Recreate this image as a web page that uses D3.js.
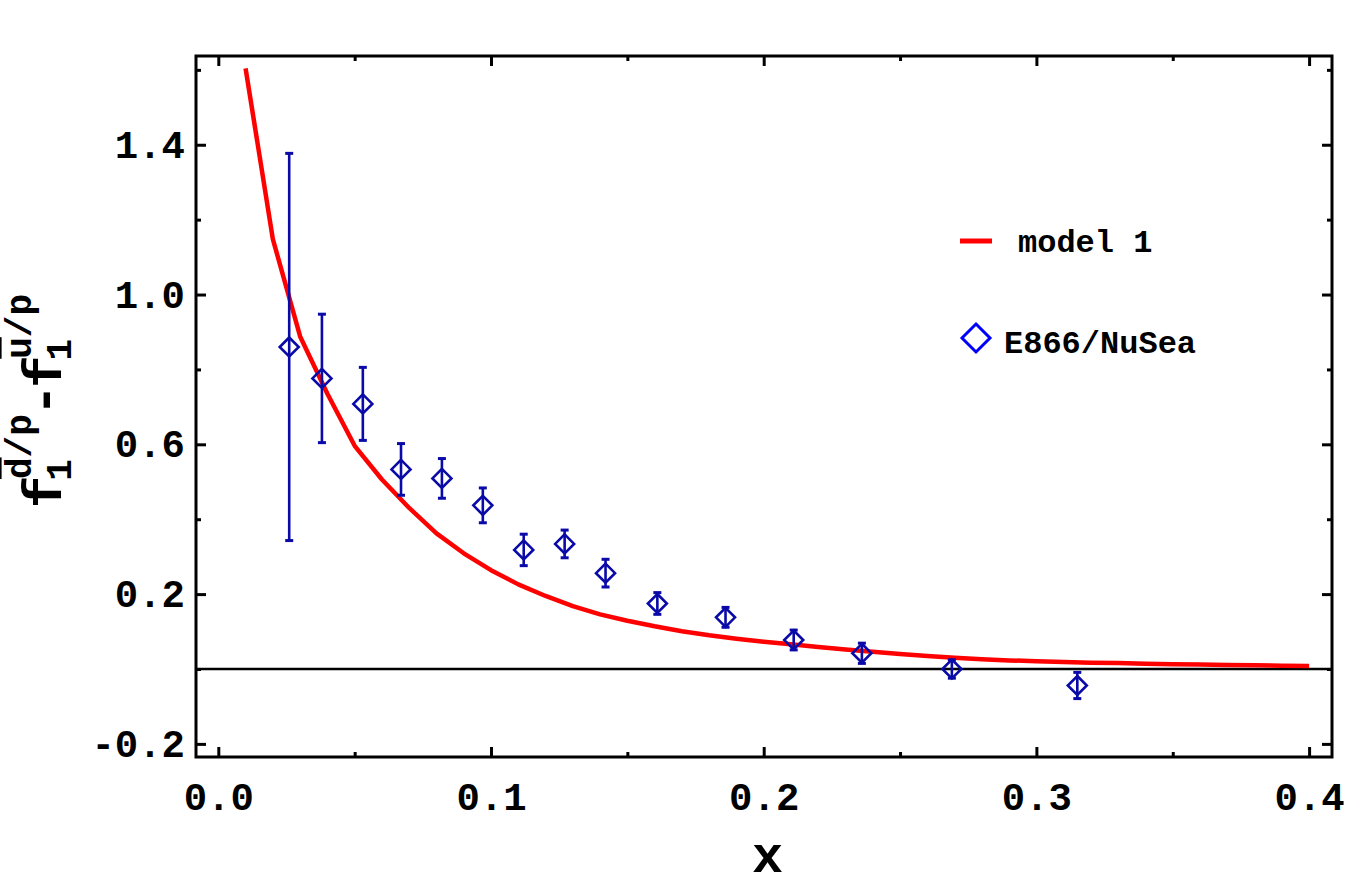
<!DOCTYPE html>
<html>
<head>
<meta charset="utf-8">
<script src="https://cdn.jsdelivr.net/npm/d3@7"></script>
<style>
  html, body { margin: 0; padding: 0; background: #fff; }
  svg { display: block; }
  text { font-family: "Liberation Mono", "DejaVu Sans Mono", monospace; font-weight: bold; }
</style>
</head>
<body>
<svg id="chart" width="1350" height="889"></svg>
<script>
// ---- data ----
const modelX = [0.01,0.02,0.03,0.04,0.05,0.06,0.07,0.08,0.09,0.10,
                0.11,0.12,0.13,0.14,0.15,0.16,0.17,0.18,0.19,0.20,
                0.21,0.22,0.23,0.24,0.25,0.26,0.27,0.28,0.29,0.30,
                0.31,0.32,0.33,0.34,0.35,0.36,0.37,0.38,0.39,0.40];
const modelY = [1.604,1.148,0.888,0.735,0.596,0.506,0.430,0.362,0.309,0.264,
                0.226,0.195,0.168,0.146,0.129,0.114,0.101,0.090,0.081,0.073,
                0.066,0.059,0.052,0.046,0.040,0.035,0.030,0.026,0.023,0.021,
                0.019,0.017,0.016,0.014,0.013,0.012,0.011,0.010,0.009,0.008];

const dataX   = [0.026,0.038,0.053,0.067,0.082,0.097,0.112,0.127,0.142,0.161,0.186,0.211,0.236,0.269,0.315];
const dataY   = [0.860,0.776,0.708,0.533,0.509,0.437,0.318,0.334,0.256,0.175,0.138,0.0775,0.042,0.000,-0.044];
const dataErr = [0.517,0.1715,0.0975,0.069,0.053,0.0465,0.042,0.037,0.037,0.029,0.0265,0.0265,0.027,0.0245,0.035];

const xMajorTicks = [0.0,0.1,0.2,0.3,0.4];
const xMinorTicks = [0.05,0.15,0.25,0.35];
const yMajorTicks = [-0.2,0.2,0.6,1.0,1.4];
const yMinorTicks = [0.0,0.4,0.8,1.2,1.6];

const legendLabels = ["model 1", "E866/NuSea"];

// ---- layout ----
const svg = d3.select("#chart");
const frame = {left: 196, right: 1332, top: 56, bottom: 757};
const x = d3.scaleLinear().domain([-0.00818, 0.4084]).range([frame.left, frame.right]);
const y = d3.scaleLinear().domain([-0.235, 1.637]).range([frame.bottom, frame.top]);

const dataColor = "#0a0aa8";
const fmt = d => d.toFixed(1);

// zero line
svg.append("line")
  .attr("x1", frame.left).attr("x2", frame.right)
  .attr("y1", y(0)).attr("y2", y(0))
  .attr("stroke", "#000").attr("stroke-width", 2.6);

// model curve
const line = d3.line().x((d,i) => x(modelX[i])).y((d,i) => y(modelY[i]));
svg.append("path")
  .attr("d", line(modelX))
  .attr("fill", "none").attr("stroke", "#ff0000").attr("stroke-width", 4.5)
  .attr("stroke-linejoin", "round");

// error bars
const eb = svg.append("g").attr("stroke", dataColor);
dataX.forEach((xv, i) => {
  const yt = y(dataY[i] + dataErr[i]), yb = y(dataY[i] - dataErr[i]), xp = x(xv);
  eb.append("line").attr("x1", xp).attr("x2", xp).attr("y1", yt).attr("y2", yb).attr("stroke-width", 2.6);
  eb.append("line").attr("x1", xp-4).attr("x2", xp+4).attr("y1", yt).attr("y2", yt).attr("stroke-width", 3);
  eb.append("line").attr("x1", xp-4).attr("x2", xp+4).attr("y1", yb).attr("y2", yb).attr("stroke-width", 3);
});

// diamonds
const diamond = (cx, cy, r) => `M${cx},${cy-r}L${cx+r},${cy}L${cx},${cy+r}L${cx-r},${cy}Z`;
svg.append("g").selectAll("path").data(dataX).join("path")
  .attr("d", (d,i) => diamond(x(d), y(dataY[i]), 9.5))
  .attr("fill", "none").attr("stroke", dataColor).attr("stroke-width", 2.6);

// ---- axes (inward ticks, mirrored) ----
function styleAxis(g) {
  g.select(".domain").remove();
  g.selectAll(".tick line").attr("stroke", "#000").attr("stroke-width", 3);
  g.selectAll(".tick text").attr("fill", "#000").style("font-size", "39px")
    .style("font-family", "'Liberation Mono', monospace").style("font-weight", "bold");
}
// bottom
svg.append("g").attr("transform", `translate(0,${frame.bottom})`)
  .call(d3.axisBottom(x).tickValues(xMajorTicks).tickSizeInner(-10).tickSizeOuter(0).tickPadding(25).tickFormat(fmt))
  .call(styleAxis);
svg.append("g").attr("transform", `translate(0,${frame.bottom})`)
  .call(d3.axisBottom(x).tickValues(xMinorTicks).tickSizeInner(-5).tickSizeOuter(0).tickFormat(""))
  .call(styleAxis);
// top
svg.append("g").attr("transform", `translate(0,${frame.top})`)
  .call(d3.axisTop(x).tickValues(xMajorTicks).tickSizeInner(-10).tickSizeOuter(0).tickFormat(""))
  .call(styleAxis);
svg.append("g").attr("transform", `translate(0,${frame.top})`)
  .call(d3.axisTop(x).tickValues(xMinorTicks).tickSizeInner(-5).tickSizeOuter(0).tickFormat(""))
  .call(styleAxis);
// left
svg.append("g").attr("transform", `translate(${frame.left},0)`)
  .call(d3.axisLeft(y).tickValues(yMajorTicks).tickSizeInner(-10).tickSizeOuter(0).tickPadding(11).tickFormat(fmt))
  .call(styleAxis);
svg.append("g").attr("transform", `translate(${frame.left},0)`)
  .call(d3.axisLeft(y).tickValues(yMinorTicks).tickSizeInner(-5).tickSizeOuter(0).tickFormat(""))
  .call(styleAxis);
// right
svg.append("g").attr("transform", `translate(${frame.right},0)`)
  .call(d3.axisRight(y).tickValues(yMajorTicks).tickSizeInner(-10).tickSizeOuter(0).tickFormat(""))
  .call(styleAxis);
svg.append("g").attr("transform", `translate(${frame.right},0)`)
  .call(d3.axisRight(y).tickValues(yMinorTicks).tickSizeInner(-5).tickSizeOuter(0).tickFormat(""))
  .call(styleAxis);

// frame
svg.append("rect")
  .attr("x", frame.left).attr("y", frame.top)
  .attr("width", frame.right - frame.left).attr("height", frame.bottom - frame.top)
  .attr("fill", "none").attr("stroke", "#000").attr("stroke-width", 3);

// x title
svg.append("text").attr("x", x(0.2) + 4).attr("y", 872)
  .attr("text-anchor", "middle").style("font-size", "52px").text("x");

// y title: f_1^{dbar/p} - f_1^{ubar/p}
const yt = svg.append("text")
  .attr("transform", "translate(61,401) rotate(-90)")
  .attr("text-anchor", "middle").style("font-size", "54px");
yt.append("tspan").text("f");
yt.append("tspan").attr("dx", -5).attr("dy", 10).style("font-size", "36px").text("1");
yt.append("tspan").attr("dx", -20).attr("dy", -40).style("font-size", "36px")
  .style("text-decoration", "overline").text("d");
yt.append("tspan").style("font-size", "36px").text("/p");
yt.append("tspan").attr("dx", -2).attr("dy", 30).text("-");
yt.append("tspan").attr("dx", -4).text("f");
yt.append("tspan").attr("dx", -5).attr("dy", 10).style("font-size", "36px").text("1");
yt.append("tspan").attr("dx", -20).attr("dy", -40).style("font-size", "36px")
  .style("text-decoration", "overline").text("u");
yt.append("tspan").style("font-size", "36px").text("/p");

// legend
const lg = svg.append("g");
lg.append("line").attr("x1", 960).attr("x2", 992).attr("y1", 241).attr("y2", 241)
  .attr("stroke", "#ff0000").attr("stroke-width", 5);
lg.append("text").attr("x", 1018).attr("y", 241).attr("dy", "0.35em")
  .style("font-size", "32px").text(legendLabels[0]);
lg.append("path").attr("d", diamond(976, 338, 14))
  .attr("fill", "none").attr("stroke", "#0000ff").attr("stroke-width", 3);
lg.append("text").attr("x", 1004).attr("y", 342).attr("dy", "0.35em")
  .style("font-size", "32px").text(legendLabels[1]);
</script>
</body>
</html>
